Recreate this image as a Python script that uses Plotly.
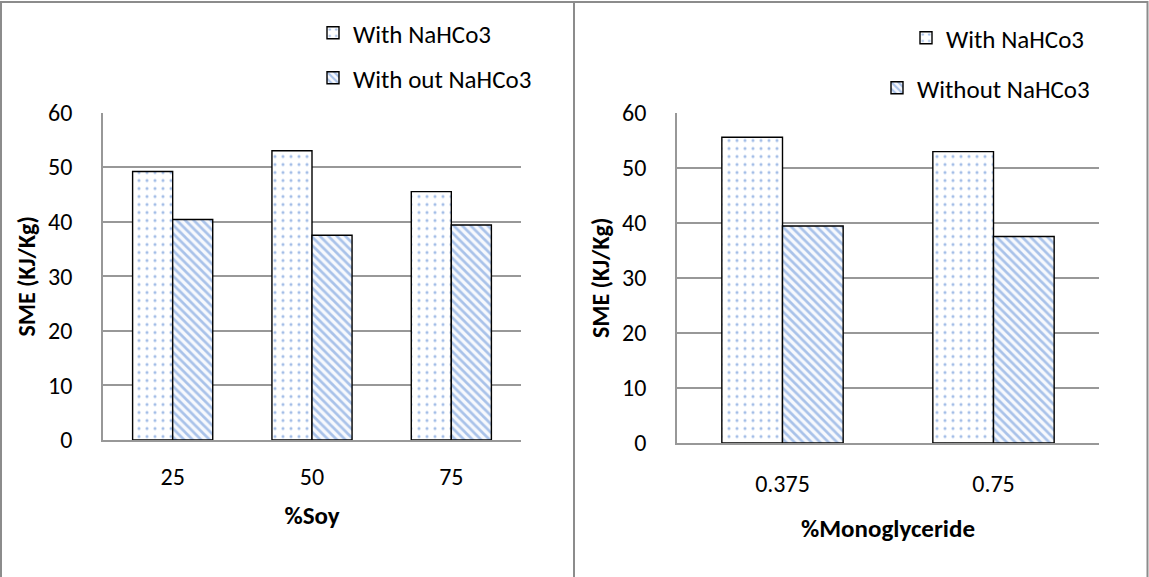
import plotly.graph_objects as go
from plotly.subplots import make_subplots

# Specific mechanical energy by formulation
soy_levels = ["25", "50", "75"]
soy_with = [49.2, 53.0, 45.5]
soy_without = [40.4, 37.5, 39.4]

mono_levels = ["0.375", "0.75"]
mono_with = [55.5, 52.9]
mono_without = [39.4, 37.5]

y_ticks = [0, 10, 20, 30, 40, 50, 60]

W, H = 1149, 577
FONT = "Carlito, Lato"
BLUE = "#4a7dcf"
GRID = "#989898"

dots = dict(shape=".", fgcolor=BLUE, bgcolor="white", size=8, solidity=0.12)
hatch = dict(shape="\\", fgcolor="#5b8bd6", bgcolor="#f7f9fd", size=6, solidity=0.45)
outline = dict(color="black", width=1.4)

fig = make_subplots(rows=1, cols=2)

fig.add_trace(go.Bar(x=soy_levels, y=soy_with, name="With NaHCo3",
                     marker=dict(color="white", pattern=dots, line=outline),
                     legend="legend"), row=1, col=1)
fig.add_trace(go.Bar(x=soy_levels, y=soy_without, name="With out NaHCo3",
                     marker=dict(color="white", pattern=hatch, line=outline),
                     legend="legend2"), row=1, col=1)
fig.add_trace(go.Bar(x=mono_levels, y=mono_with, name="With NaHCo3",
                     marker=dict(color="white", pattern=dots, line=outline),
                     legend="legend3"), row=1, col=2)
fig.add_trace(go.Bar(x=mono_levels, y=mono_without, name="Without NaHCo3",
                     marker=dict(color="white", pattern=hatch, line=outline),
                     legend="legend4"), row=1, col=2)


def px_x(v):
    return v / W


def px_y(v):
    return 1 - v / H


tick_font = dict(family=FONT, size=24, color="black")
legend_font = dict(family=FONT, size=25, color="black")
ytitle_font = dict(family=FONT, size=24, color="black", weight="bold")
xtitle_font = dict(family=FONT, size=25, color="black", weight="bold")


def legend_at(x, y):
    return dict(x=px_x(x), y=px_y(y), xanchor="left", yanchor="top",
                font=legend_font, bgcolor="rgba(0,0,0,0)")


yaxis_common = dict(range=[0, 60], tickvals=y_ticks, showgrid=True, gridcolor=GRID,
                    gridwidth=1.5, zeroline=False, showline=True, linecolor=GRID,
                    linewidth=1.5, ticks="", tickfont=tick_font, ticklabelstandoff=24,
                    title=dict(text="SME (KJ/Kg)", font=ytitle_font, standoff=6))

fig.update_layout(
    width=W, height=H,
    margin=dict(l=0, r=0, t=0, b=0, autoexpand=False),
    paper_bgcolor="white", plot_bgcolor="white",
    barmode="group", bargap=0.425, bargroupgap=0,
    font=tick_font,
    showlegend=True,
    legend=legend_at(313, 10),
    legend2=legend_at(313, 55),
    legend3=legend_at(906, 15),
    legend4=legend_at(877, 65),
    xaxis=dict(domain=[px_x(103), px_x(521)], showline=True, linecolor=GRID, linewidth=1.5,
               ticks="", tickfont=tick_font, ticklabelstandoff=14,
               title=dict(text="%Soy", font=xtitle_font, standoff=17)),
    xaxis2=dict(domain=[px_x(677), px_x(1099)], showline=True, linecolor=GRID, linewidth=1.5,
                ticks="", tickfont=tick_font, ticklabelstandoff=18,
                title=dict(text="%Monoglyceride", font=xtitle_font, standoff=23)),
    yaxis=dict(domain=[px_y(440), px_y(112.5)], **yaxis_common),
    yaxis2=dict(domain=[px_y(443), px_y(112.5)], **yaxis_common),
)

# chart frames
for x0, x1 in [(1, 574), (574, 1147.5)]:
    fig.add_shape(type="rect", xref="paper", yref="paper",
                  x0=px_x(x0), x1=px_x(x1), y0=px_y(600), y1=px_y(2),
                  line=dict(color="#8c8c8c", width=2), fillcolor="rgba(0,0,0,0)",
                  layer="above")

fig.write_html("out.html")
